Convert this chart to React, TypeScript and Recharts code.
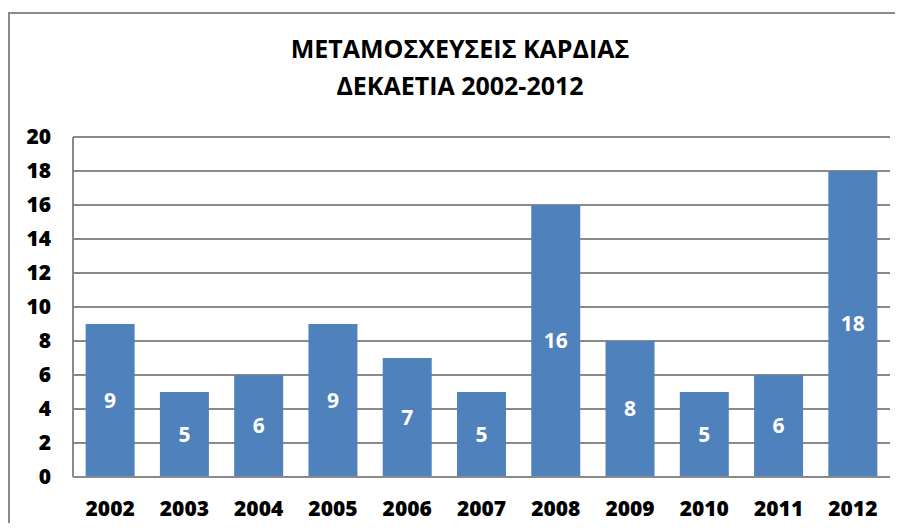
import { BarChart, Bar, XAxis, YAxis, CartesianGrid, LabelList } from "recharts";

const years = ["2002", "2003", "2004", "2005", "2006", "2007", "2008", "2009", "2010", "2011", "2012"];
const transplants = [9, 5, 6, 9, 7, 5, 16, 8, 5, 6, 18];
const yTicks = [0, 2, 4, 6, 8, 10, 12, 14, 16, 18, 20];
const titleLines = ["ΜΕΤΑΜΟΣΧΕΥΣΕΙΣ ΚΑΡΔΙΑΣ", "ΔΕΚΑΕΤΙΑ 2002-2012"];

const data = years.map((year, i) => ({ year, value: transplants[i] }));

const font = "'Open Sans', Calibri, sans-serif";
const gray = "#8a8a8a";

export default function App() {
  return (
    <div style={{ position: "relative", width: 895, height: 515, fontFamily: font }}>
      <style>{"html, body { overflow: hidden; }"}</style>
      {/* outer chart frame, only top and left edges are visible in the crop */}
      <div
        style={{
          position: "absolute",
          left: 0,
          top: 4,
          right: 0,
          bottom: 0,
          borderLeft: `2px solid ${gray}`,
          borderTop: `2px solid ${gray}`,
        }}
      />
      <div
        style={{
          position: "absolute",
          left: 9,
          width: 886,
          top: 22,
          textAlign: "center",
          fontWeight: 700,
          fontSize: 25,
          lineHeight: "37px",
          color: "#000",
        }}
      >
        {titleLines.map((t) => (
          <div key={t}>{t}</div>
        ))}
      </div>
      <BarChart
        width={895}
        height={515}
        data={data}
        margin={{ top: 129, right: 13, left: 0, bottom: 0 }}
        barCategoryGap="17%"
        style={{ position: "absolute", left: 0, top: 0 }}
      >
        <CartesianGrid vertical={false} stroke={gray} strokeWidth={2} />
        <XAxis
          dataKey="year"
          height={46}
          tickLine={false}
          tickSize={0}
          tickMargin={24}
          axisLine={{ stroke: gray, strokeWidth: 2 }}
          tick={{ fill: "#000", fontSize: 21, fontWeight: 800, fontFamily: font }}
          interval={0}
        />
        <YAxis
          width={65}
          domain={[0, 20]}
          ticks={yTicks}
          tickLine={false}
          tickSize={0}
          tickMargin={22}
          axisLine={{ stroke: gray, strokeWidth: 2 }}
          tick={{ fill: "#000", fontSize: 21, fontWeight: 800, fontFamily: font }}
          interval={0}
        />
        <Bar dataKey="value" fill="#4F81BD" isAnimationActive={false}>
          <LabelList
            dataKey="value"
            position="center"
            fill="#fff"
            style={{ fontSize: 21, fontWeight: 700, fontFamily: font }}
          />
        </Bar>
      </BarChart>
    </div>
  );
}
